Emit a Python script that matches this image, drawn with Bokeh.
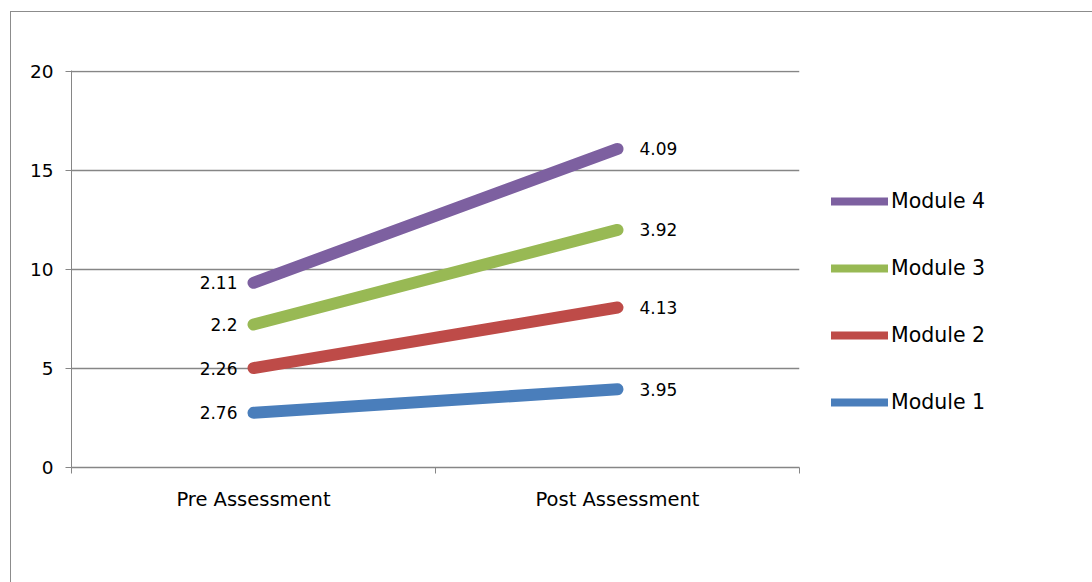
import numpy as np
from bokeh.plotting import figure
from bokeh.models import (ColumnDataSource, Range1d, FixedTicker, Legend, LegendItem)
from bokeh.core.properties import value
from bokeh.embed import file_html
from bokeh.resources import INLINE

# Assessment stages and per-module scores (stacked in series order)
categories = ["Pre Assessment", "Post Assessment"]
series_names = ["Module 1", "Module 2", "Module 3", "Module 4"]
module_1 = [2.76, 3.95]
module_2 = [2.26, 4.13]
module_3 = [2.2, 3.92]
module_4 = [2.11, 4.09]
y_ticks = [0, 5, 10, 15, 20]

colors = ["#4A7EBB", "#BE4B48", "#98B954", "#7D60A0"]
FONT = "DejaVu Sans"
GRAY = "#868686"

series = [module_1, module_2, module_3, module_4]
stacked = np.cumsum(np.array(series), axis=0)
xs = [i + 0.5 for i in range(len(categories))]

# small headroom so the top gridline is not clipped by the frame edge
p = figure(width=1082, height=571, frame_width=728, frame_height=397,
           x_range=Range1d(0, len(categories)), y_range=Range1d(0, 20.05),
           output_backend="svg", toolbar_location=None,
           min_border_left=60, min_border_top=58,
           min_border_right=10, min_border_bottom=116)
p.margin = (11, 0, 0, 10)
p.styles = {"border-left": "1px solid #8c8c8c", "border-top": "1px solid #8c8c8c"}
p.outline_line_color = None
p.background_fill_color = "white"
p.border_fill_color = "white"

# y axis
p.yaxis.ticker = FixedTicker(ticks=y_ticks)
p.yaxis.axis_line_color = GRAY
p.yaxis.major_tick_line_color = GRAY
p.yaxis.major_tick_in = 0
p.yaxis.major_tick_out = 6
p.yaxis.minor_tick_line_color = None
p.yaxis.major_label_text_font = FONT
p.yaxis.major_label_text_font_size = "18.5px"
p.yaxis.major_label_text_color = "black"
p.yaxis.major_label_standoff = 12
p.ygrid.ticker = FixedTicker(ticks=y_ticks)
p.ygrid.grid_line_color = GRAY
p.ygrid.grid_line_width = 1.3
p.xgrid.grid_line_color = None

# x axis: labels centred in each category, tick marks on the boundaries
p.xaxis.ticker = FixedTicker(ticks=xs, minor_ticks=list(range(len(categories) + 1)))
p.xaxis.major_label_overrides = {x: c for x, c in zip(xs, categories)}
p.xaxis.axis_line_color = GRAY
p.xaxis.axis_line_width = 1.3
p.xaxis.major_tick_line_color = None
p.xaxis.minor_tick_line_color = GRAY
p.xaxis.minor_tick_in = 0
p.xaxis.minor_tick_out = 6
p.xaxis.major_label_text_font = FONT
p.xaxis.major_label_text_font_size = "19.5px"
p.xaxis.major_label_text_color = "black"
p.xaxis.major_label_standoff = 14

legend_items = []
for name, vals, cum, col in zip(series_names, series, stacked, colors):
    src = ColumnDataSource(dict(x=xs, y=list(cum)))
    p.line("x", "y", source=src, line_color=col, line_width=12, line_cap="round")
    pre = ColumnDataSource(dict(x=xs[:1], y=list(cum[:1]), lab=[str(vals[0])]))
    post = ColumnDataSource(dict(x=xs[1:], y=list(cum[1:]), lab=[str(vals[1])]))
    p.text("x", "y", text="lab", source=pre, text_align="right", text_baseline="middle",
           x_offset=-16, text_font=value(FONT), text_font_size="17px", text_color="black")
    p.text("x", "y", text="lab", source=post, text_align="left", text_baseline="middle",
           x_offset=22, text_font=value(FONT), text_font_size="17px", text_color="black")
    # thinner proxy line (no visible points) for the legend key
    proxy = p.line(x=[np.nan], y=[np.nan], line_color=col, line_width=8, line_cap="round")
    legend_items.append(LegendItem(label=name, renderers=[proxy]))

legend = Legend(items=legend_items[::-1], location=(32, 53),
                glyph_width=57, glyph_height=20, label_height=20, spacing=43,
                padding=0, margin=0, label_standoff=3,
                label_text_font=FONT, label_text_font_size="20.5px",
                label_text_color="black",
                background_fill_alpha=0, border_line_color=None)
p.add_layout(legend, "right")

open("out.html", "w").write(file_html(p, INLINE))
